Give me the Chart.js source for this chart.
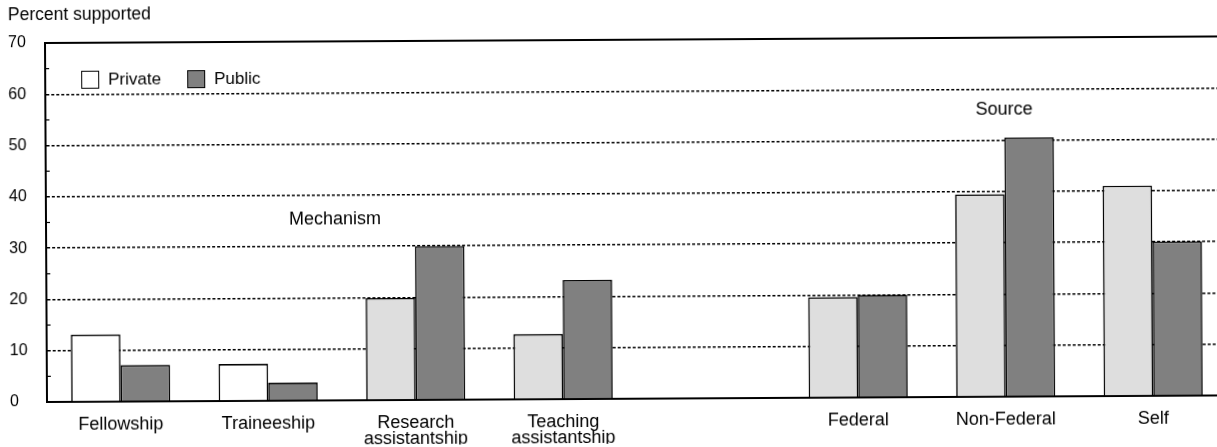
<!DOCTYPE html>
<html>
<head>
<meta charset="utf-8">
<script src="https://cdn.jsdelivr.net/npm/chart.js@4.4.1/dist/chart.umd.min.js"></script>
<style>
    html, body { margin: 0; padding: 0; background: #fff; overflow: hidden; }
    #wrap {
        position: absolute; left: 0; top: 0;
        width: 1240px; height: 447px;
        transform: rotate(-0.32deg);
        transform-origin: 47px 402px;
    }
</style>
</head>
<body>
<div id="wrap"><canvas id="supportChart"></canvas></div>
<script>
const categories = ['Fellowship', 'Traineeship', ['Research', 'assistantship'], ['Teaching', 'assistantship'], '', 'Federal', 'Non-Federal', 'Self'];
const privateValues = [13.1, 7.2, 19.9, 12.7, null, 19.6, 39.5, 41.0];
const publicValues = [7.1, 3.5, 30.0, 23.2, null, 20.0, 50.5, 30.1];
const seriesNames = ['Private', 'Public'];
const yMax = 70;

const FONT = '"Liberation Sans", Arial, sans-serif';

// the first two mechanism bars are plain white in the print
const privateFill = (ctx) => (ctx.dataIndex < 2 ? '#ffffff' : '#dedede');

const extras = {
    id: 'extras',
    afterDraw(chart) {
        const { ctx, chartArea, scales } = chart;
        const x = scales.x;
        const y = scales.y;
        ctx.save();

        // solid top frame
        ctx.strokeStyle = '#000';
        ctx.lineWidth = 2;
        ctx.beginPath();
        ctx.moveTo(chartArea.left, y.getPixelForValue(yMax));
        ctx.lineTo(chartArea.right, y.getPixelForValue(yMax));
        ctx.stroke();

        // small minor ticks on the axis
        ctx.lineWidth = 1.2;
        for (let v = 5; v < yMax; v += 10) {
            const py = y.getPixelForValue(v);
            ctx.beginPath();
            ctx.moveTo(chartArea.left, py);
            ctx.lineTo(chartArea.left + 4, py);
            ctx.stroke();
        }

        ctx.fillStyle = '#000';
        ctx.textBaseline = 'middle';
        ctx.font = '17.5px ' + FONT;
        ctx.textAlign = 'left';
        ctx.fillText('Percent supported', 10, 15);

        // group captions
        ctx.font = '18px ' + FONT;
        ctx.textAlign = 'center';
        ctx.fillText('Mechanism', x.getPixelForValue(1.46), y.getPixelForValue(35.3));
        ctx.fillText('Source', x.getPixelForValue(6), y.getPixelForValue(55.9));

        // legend inside the plot
        const colors = ['#ffffff', '#808080'];
        let lx = chartArea.left + 36;
        const ly = chartArea.top + 37;
        ctx.font = '17px ' + FONT;
        ctx.textAlign = 'left';
        seriesNames.forEach((name, i) => {
            ctx.fillStyle = colors[i];
            ctx.fillRect(lx, ly - 9, 17, 17);
            ctx.strokeStyle = '#000';
            ctx.lineWidth = 1;
            ctx.strokeRect(lx + 0.5, ly - 8.5, 17, 17);
            ctx.fillStyle = '#000';
            ctx.fillText(name, lx + 27, ly);
            lx += 106;
        });
        ctx.restore();
    }
};

new Chart(document.getElementById('supportChart').getContext('2d'), {
    type: 'bar',
    data: {
        labels: categories,
        datasets: [{
            label: seriesNames[0],
            data: privateValues,
            backgroundColor: privateFill,
            borderColor: '#000',
            borderWidth: 1.6,
            barPercentage: 1,
            categoryPercentage: 0.672,
        }, {
            label: seriesNames[1],
            data: publicValues,
            backgroundColor: '#808080',
            borderColor: '#000',
            borderWidth: 1.6,
            barPercentage: 1,
            categoryPercentage: 0.672,
        }]
    },
    options: {
        responsive: true,
        maintainAspectRatio: false,
        animation: false,
        events: [],
        layout: {
            padding: { left: 10, top: 43, right: 13, bottom: 0 }
        },
        scales: {
            x: {
                grid: { display: false },
                border: { display: true, color: '#000', width: 2 },
                ticks: {
                    color: '#000',
                    font: { family: FONT, size: 18, lineHeight: 0.9 },
                    padding: 7,
                    maxRotation: 0,
                    autoSkip: false,
                },
                afterFit: (scale) => { scale.height = 45; }
            },
            y: {
                min: 0,
                max: yMax,
                grid: {
                    drawTicks: false,
                    lineWidth: 1.4,
                    color: (ctx) => (ctx.tick.value % 10 === 0 && ctx.tick.value < yMax ? '#000' : 'transparent'),
                },
                border: { display: true, color: '#000', width: 2, dash: [3, 2] },
                ticks: {
                    stepSize: 5,
                    color: '#000',
                    crossAlign: 'far',
                    font: { family: FONT, size: 16 },
                    callback: (value) => (value % 10 === 0 ? value : ''),
                },
                afterFit: (scale) => { scale.width = 37; }
            }
        },
        plugins: {
            legend: { display: false },
            tooltip: { enabled: false }
        }
    },
    plugins: [extras]
});
</script>
</body>
</html>
